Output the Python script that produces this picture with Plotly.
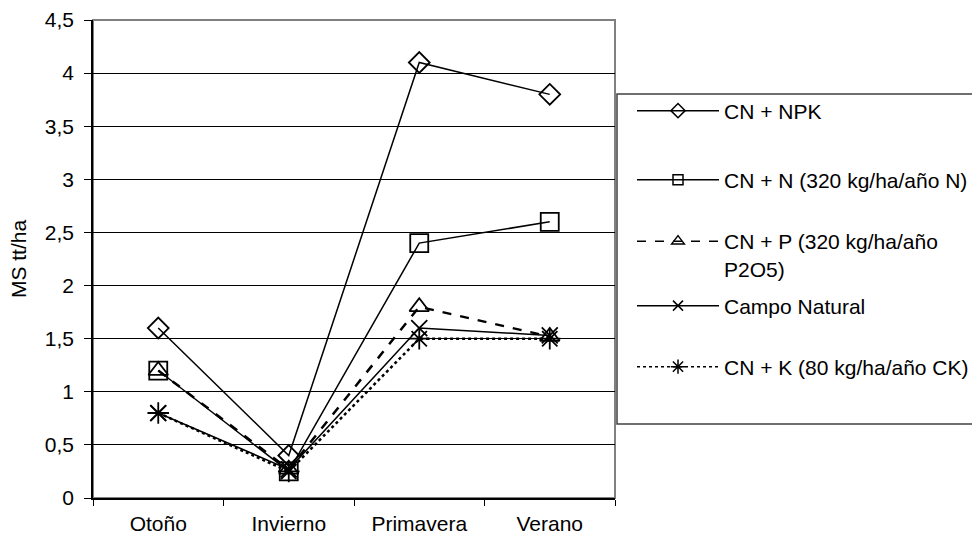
import plotly.graph_objects as go

categories = ["Otoño", "Invierno", "Primavera", "Verano"]
series_names = [
    "CN + NPK",
    "CN + N (320 kg/ha/año N)",
    "CN + P (320 kg/ha/año<br>P2O5)",
    "Campo Natural",
    "CN + K (80 kg/ha/año CK)",
]
npk = [1.6, 0.4, 4.1, 3.8]
n_vals = [1.2, 0.25, 2.4, 2.6]
p_vals = [1.2, 0.27, 1.8, 1.52]
cn_vals = [0.8, 0.27, 1.6, 1.53]
k_vals = [0.8, 0.25, 1.5, 1.5]
y_ticks = [0, 0.5, 1, 1.5, 2, 2.5, 3, 3.5, 4, 4.5]

values = [npk, n_vals, p_vals, cn_vals, k_vals]
symbols = ["diamond-open", "square-open", "triangle-up-open", "x-thin-open", "asterisk-open"]
sizes = [16, 18, 17, 16, 18]
dashes = ["solid", "solid", "dash", "solid", "dot"]
widths = [1.5, 1.5, 2.5, 1.5, 2.5]

FONT = "Liberation Sans, Arial, sans-serif"
FS = 21

L, R, T, B = 93, 615, 20, 498
W, H = 972, 538
pw, ph = R - L, B - T

def px2x(px):
    return (px - L) / pw

def py2y(py):
    return (B - py) / ph

fig = go.Figure()
for i in range(5):
    fig.add_trace(go.Scatter(
        x=categories, y=values[i], mode="lines+markers", showlegend=False,
        line=dict(color="black", width=widths[i], dash=dashes[i]),
        marker=dict(symbol=symbols[i], size=sizes[i], color="black",
                    line=dict(color="black", width=1.8)),
    ))

# legend entries (one legend per entry, for Excel-like spacing)
leg_sizes = [11, 10, 11, 10, 12]
leg_centers = [111, 180, 255, 306, 367]
legend_names = ["legend", "legend2", "legend3", "legend4", "legend5"]
for i in range(5):
    fig.add_trace(go.Scatter(
        x=[None], y=[None], mode="lines+markers", name=series_names[i],
        legend=legend_names[i],
        line=dict(color="black", width=1.5, dash=dashes[i]),
        marker=dict(symbol=symbols[i], size=leg_sizes[i], color="black",
                    line=dict(color="black", width=1.5)),
    ))

fig.add_shape(type="rect", xref="paper", yref="paper",
              x0=0, x1=1, y0=0, y1=1, line=dict(color="#808080", width=2),
              layer="below")
fig.add_shape(type="rect", xref="paper", yref="paper",
              x0=px2x(617), x1=px2x(990), y0=py2y(424), y1=py2y(94),
              line=dict(color="#404040", width=1.5), fillcolor="white")

legend_layout = {}
for i, ln in enumerate(legend_names):
    legend_layout[ln] = dict(
        x=px2x(632), xanchor="left", y=py2y(leg_centers[i]), yanchor="middle",
        bgcolor="rgba(0,0,0,0)", borderwidth=0,
        font=dict(family=FONT, size=FS, color="black"),
        itemwidth=82, valign="top",
        itemclick=False, itemdoubleclick=False,
    )

fig.update_layout(
    width=W, height=H,
    margin=dict(l=L, r=W - R, t=T, b=H - B, autoexpand=False),
    paper_bgcolor="white", plot_bgcolor="white",
    separators=",.",
    font=dict(family=FONT, size=FS, color="black"),
    showlegend=True,
    xaxis=dict(
        type="category", range=[-0.5, 3.5], tickson="boundaries",
        ticks="outside", ticklen=6, tickcolor="black", tickwidth=1,
        showline=True, linecolor="black", linewidth=1.5,
        showgrid=False, tickfont=dict(size=FS), ticklabelstandoff=6,
        fixedrange=True,
    ),
    yaxis=dict(
        range=[0, 4.5], tickvals=y_ticks, ticks="outside", ticklen=7,
        tickcolor="black", tickwidth=1,
        showline=True, linecolor="black", linewidth=1.5,
        showgrid=True, gridcolor="black", gridwidth=1, zeroline=False,
        tickfont=dict(size=FS), ticklabelstandoff=6,
        title=dict(text="MS tt/ha", font=dict(size=FS), standoff=12),
        fixedrange=True,
    ),
    **legend_layout,
)

fig.write_html("out.html")
